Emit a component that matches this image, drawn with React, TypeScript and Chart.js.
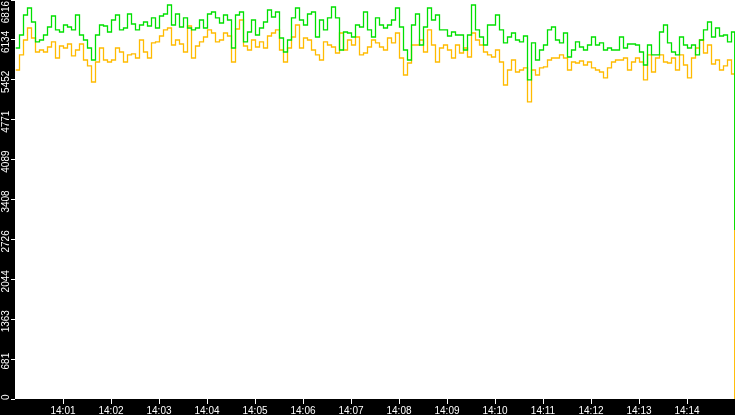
import { useEffect, useRef } from "react"
import { Chart, registerables } from "chart.js"
Chart.register(...registerables)

// samples every 5 s from 14:00:00, last one at 14:14:59
const START_HOUR = 14
const SAMPLE_STEP = 5
const LAST_SECOND = 899

const GREEN_SERIES = [
  5996, 6218, 6560, 6679, 6440, 6099, 6133, 6218, 6355, 6543, 6304, 6269, 6389, 6355, 6304, 6560, 6218, 6133, 5996, 5791, 6218, 6389, 6372,
  6269, 6474, 6560, 6304, 6338, 6577, 6406, 6304, 6389, 6440, 6372, 6509, 6338, 6543, 6577, 6731, 6389, 6577, 6355, 6509, 6338, 6304, 6338,
  6474, 6338, 6577, 6611, 6509, 6423, 6560, 6474, 5996, 6560, 6611, 6099, 6269, 6474, 6218, 6338, 6440, 6645, 6526, 6611, 6167, 5928,
  6133, 6509, 6679, 6474, 6389, 6577, 6611, 6184, 6474, 6304, 6509, 6696, 6509, 5962, 6269, 6252, 6184, 6389, 6355, 6611, 6304, 6184, 6509,
  6389, 6338, 6389, 6474, 6679, 6355, 5962, 5791, 6389, 6577, 6047, 6355, 6679, 6474, 6560, 6304, 6304, 6201, 6269, 6218, 6218, 5962,
  6218, 6731, 6304, 6184, 6047, 6389, 6389, 6560, 6304, 6082, 6184, 6252, 6133, 6099, 6201, 5450, 6082, 5791, 5962, 6047, 6304, 6355, 6133,
  6082, 6252, 5842, 5962, 6099, 6013, 5962, 6047, 6184, 6047, 6082, 5962, 5996, 5962, 5962, 6184, 5996, 6064, 6064, 6047, 5928, 5706,
  6047, 5877, 5877, 6269, 6389, 6082, 5928, 5877, 6184, 6047, 5996, 6047, 5877, 6133, 6304, 6440, 6184, 6338, 6201, 6218, 6099, 6269,
  2886,
]

const ORANGE_SERIES = [
  5620, 5877, 6133, 6338, 6167, 5928, 5962, 5928, 6013, 6099, 5825, 6030, 5996, 6064, 5860, 5962, 6064, 5791, 5689, 5415, 5757, 5996, 5791,
  5757, 5791, 5996, 5928, 5757, 5877, 5894, 5825, 6133, 5928, 5825, 6082, 6099, 6201, 6304, 6338, 6047, 6133, 6064, 5928, 6372, 5825, 6030,
  6099, 6184, 6304, 6252, 6099, 6133, 6252, 6201, 5757, 6321, 6474, 6030, 5962, 6133, 6013, 6099, 5996, 6201, 6252, 6304, 5962, 5757,
  5996, 6184, 6389, 5996, 6167, 6133, 5962, 5877, 5791, 6099, 6047, 6013, 5911, 6252, 5962, 6133, 6047, 6184, 5877, 5911, 6013, 6133, 6082,
  6013, 5962, 6167, 6082, 6252, 5825, 5535, 5740, 6047, 6047, 6133, 5928, 6304, 6047, 5757, 5996, 6047, 5962, 5825, 6047, 5911, 5996,
  5842, 6252, 6133, 6047, 5928, 5877, 5842, 5962, 5757, 5364, 5620, 5791, 5586, 5620, 5655, 5074, 5620, 5535, 5655, 5672, 5791, 5825, 5825,
  5877, 5825, 5620, 5757, 5740, 5774, 5706, 5757, 5655, 5620, 5586, 5484, 5655, 5757, 5791, 5791, 5825, 5620, 5757, 5825, 5757, 5450,
  5877, 5586, 5825, 5877, 5757, 5740, 5825, 5620, 5877, 5706, 5484, 5825, 5996, 6133, 5911, 6047, 5723, 5791, 5620, 5689, 5791, 5552,
  0,
]

const Y_TICKS = [0, 681.6, 1363.2, 2044.8, 2726.4, 3408, 4089.6, 4771.2, 5452.8, 6134.4, 6816]
const X_TICKS = [60, 120, 180, 240, 300, 360, 420, 480, 540, 600, 660, 720, 780, 840]

const GREEN = "#00e000"
const ORANGE = "#ffbb00"
const FONT = "Liberation Sans"

const toPoints = (values: number[]) =>
  values.map((v, i) => ({ x: Math.min(i * SAMPLE_STEP, LAST_SECOND), y: v }))

// black frame around a white plot, plus the rotated y labels
const framePlugin = {
  id: "frame",
  beforeDraw(chart: Chart) {
    const { ctx, chartArea } = chart
    ctx.save()
    ctx.fillStyle = "#000"
    ctx.fillRect(0, 0, chart.width, chart.height)
    ctx.fillStyle = "#fff"
    ctx.fillRect(chartArea.left, chartArea.top, chartArea.right - chartArea.left, chartArea.bottom - chartArea.top)
    ctx.restore()
  },
  // nudge the 1px lines onto pixel centres so they stay crisp
  beforeDatasetsDraw(chart: Chart) {
    chart.ctx.save()
    chart.ctx.translate(0.5, 0)
  },
  afterDatasetsDraw(chart: Chart) {
    chart.ctx.restore()
  },
  afterDraw(chart: Chart) {
    const { ctx, chartArea } = chart
    const ys = chart.scales.y
    ctx.save()
    ctx.fillStyle = "#fff"
    ctx.font = `10px ${FONT}`
    ctx.textAlign = "center"
    ctx.textBaseline = "middle"
    Y_TICKS.forEach(v => {
      const label = String(Math.floor(v))
      const w = ctx.measureText(label).width
      let cy = ys.getPixelForValue(v) + 2
      cy = Math.max(chartArea.top + w / 2 + 1, Math.min(chartArea.bottom - w / 2 + 1, cy))
      ctx.save()
      ctx.translate(6.5, cy)
      ctx.rotate(-Math.PI / 2)
      ctx.fillText(label, 0, 0)
      ctx.restore()
    })
    ctx.restore()
  },
}

function TrafficChart() {
  const ref = useRef<HTMLCanvasElement>(null)
  useEffect(() => {
    if (!ref.current) return
    const chart = new Chart(ref.current, {
      type: "line",
      data: {
        datasets: [
          { data: toPoints(GREEN_SERIES), borderColor: GREEN, borderWidth: 1.3, pointRadius: 0, stepped: true },
          { data: toPoints(ORANGE_SERIES), borderColor: ORANGE, borderWidth: 1.3, pointRadius: 0, stepped: true },
        ],
      },
      options: {
        animation: false,
        responsive: true,
        maintainAspectRatio: false,
        events: [],
        layout: { padding: 0 },
        plugins: { legend: { display: false }, tooltip: { enabled: false } },
        scales: {
          x: {
            type: "linear",
            min: 0,
            max: 900,
            border: { display: false },
            grid: { drawOnChartArea: false, drawTicks: true, tickLength: 5, color: "#fff" },
            afterBuildTicks: (s: any) => { s.ticks = X_TICKS.map(v => ({ value: v })) },
            afterFit: (s: any) => { s.height = 16 },
            ticks: {
              color: "#fff",
              font: { family: FONT, size: 10 },
              padding: 1,
              maxRotation: 0,
              autoSkip: false,
              callback: (v: any) => `${START_HOUR}:${String(Number(v) / 60).padStart(2, "0")}`,
            },
          },
          y: {
            min: 0,
            max: 6816,
            border: { display: false },
            grid: { drawOnChartArea: false, drawTicks: true, tickLength: 4, color: "#fff" },
            afterBuildTicks: (s: any) => { s.ticks = Y_TICKS.map(v => ({ value: v })) },
            afterFit: (s: any) => { s.width = 15 },
            ticks: { display: false },
          },
        },
      },
      plugins: [framePlugin],
    })
    return () => chart.destroy()
  }, [])
  return <canvas ref={ref} />
}

export default function App() {
  return (
    <div style={{ position: "fixed", left: 0, top: 0, width: 735, height: 415, background: "#000" }}>
      <TrafficChart />
    </div>
  )
}
